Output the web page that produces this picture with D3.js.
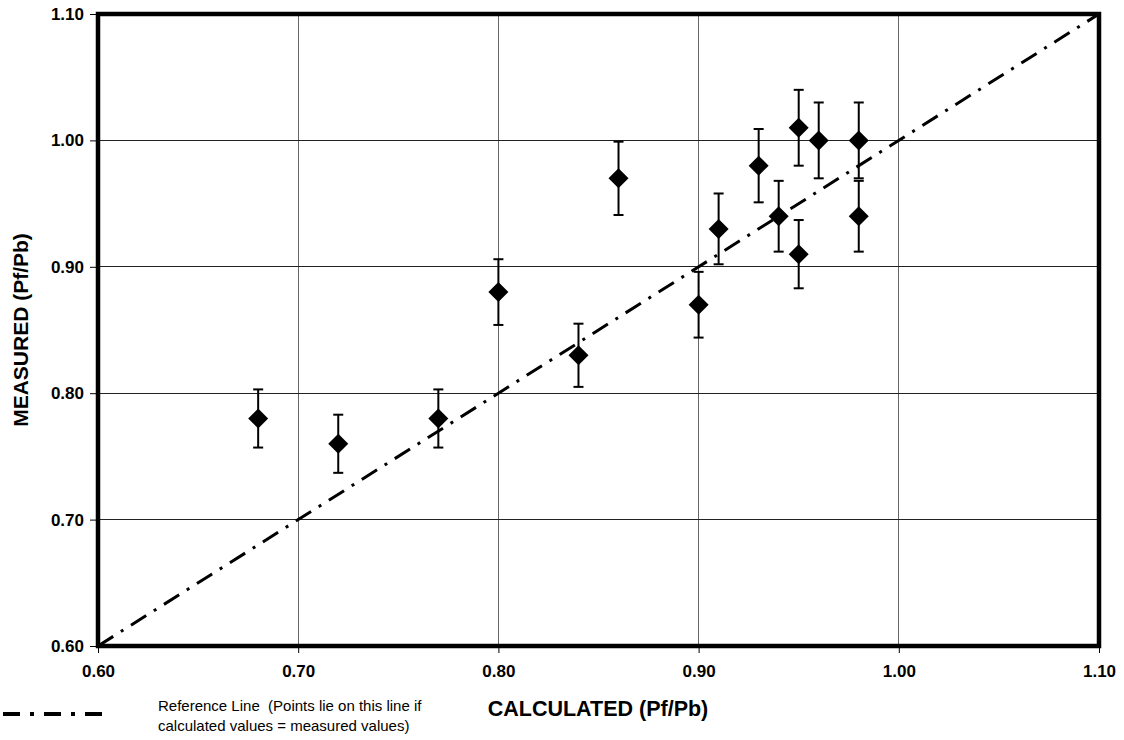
<!DOCTYPE html>
<html><head><meta charset="utf-8">
<script src="https://cdn.jsdelivr.net/npm/d3@7"></script>
<style>body{margin:0;background:#fff}svg{display:block}text{font-family:"Liberation Sans",Arial,sans-serif}</style>
</head><body><svg id="c" width="1124" height="740"></svg>
<script>
const calculated = [0.68,0.72,0.77,0.80,0.84,0.86,0.90,0.91,0.93,0.94,0.95,0.95,0.96,0.98,0.98];
const measured   = [0.78,0.76,0.78,0.88,0.83,0.97,0.87,0.93,0.98,0.94,1.01,0.91,1.00,1.00,0.94];
const errors     = [0.023,0.023,0.023,0.026,0.025,0.029,0.026,0.028,0.029,0.028,0.030,0.027,0.030,0.030,0.028];
const xTicks = [0.60,0.70,0.80,0.90,1.00,1.10];
const yTicks = [0.60,0.70,0.80,0.90,1.00,1.10];
const refLine = [[0.60,0.60],[1.10,1.10]];

const svg = d3.select("#c");
const L=98, R=1099, T=14, B=646;
const x = d3.scaleLinear().domain([0.6,1.1]).range([L,R]);
const y = d3.scaleLinear().domain([0.6,1.1]).range([B,T]);

// grid
svg.append("g").selectAll("line").data(xTicks.slice(1,-1)).join("line")
  .attr("x1",d=>x(d)).attr("x2",d=>x(d)).attr("y1",T).attr("y2",B)
  .attr("stroke","#666").attr("stroke-width",1).attr("shape-rendering","crispEdges");
svg.append("g").selectAll("line").data(yTicks.slice(1,-1)).join("line")
  .attr("x1",L).attr("x2",R).attr("y1",d=>y(d)).attr("y2",d=>y(d))
  .attr("stroke","#222").attr("stroke-width",1).attr("shape-rendering","crispEdges");

// axes
const xa = svg.append("g").attr("transform",`translate(0,${B})`)
  .call(d3.axisBottom(x).tickValues(xTicks).tickFormat(d3.format(".2f")).tickSize(7).tickPadding(12));
const ya = svg.append("g").attr("transform",`translate(${L},0)`)
  .call(d3.axisLeft(y).tickValues(yTicks).tickFormat(d3.format(".2f")).tickSize(8).tickPadding(6));
[xa,ya].forEach(a=>{a.select(".domain").remove();
  a.selectAll("text").style("font-size","17px").style("font-weight","bold").attr("fill","#000");
  a.selectAll("line").attr("stroke","#000");});

// reference line
svg.append("path").datum(refLine)
  .attr("d",d3.line().x(d=>x(d[0])).y(d=>y(d[1])))
  .attr("stroke","#000").attr("stroke-width",3).attr("fill","none")
  .attr("stroke-dasharray","18,9,3,9");

// error bars
const data = calculated.map((c,i)=>({c,m:measured[i],e:errors[i]}));
const eb = svg.append("g").selectAll("g").data(data).join("g");
eb.append("line").attr("x1",d=>x(d.c)).attr("x2",d=>x(d.c))
  .attr("y1",d=>y(d.m+d.e)).attr("y2",d=>y(d.m-d.e)).attr("stroke","#000").attr("stroke-width",2);
eb.append("line").attr("x1",d=>x(d.c)-5).attr("x2",d=>x(d.c)+5)
  .attr("y1",d=>y(d.m+d.e)).attr("y2",d=>y(d.m+d.e)).attr("stroke","#000").attr("stroke-width",2);
eb.append("line").attr("x1",d=>x(d.c)-5).attr("x2",d=>x(d.c)+5)
  .attr("y1",d=>y(d.m-d.e)).attr("y2",d=>y(d.m-d.e)).attr("stroke","#000").attr("stroke-width",2);

// markers
svg.append("g").selectAll("path").data(data).join("path")
  .attr("transform",d=>`translate(${x(d.c)},${y(d.m)})`)
  .attr("d","M0,-10L10,0L0,10L-10,0Z").attr("fill","#000");

// frame
svg.append("rect").attr("x",L).attr("y",T).attr("width",R-L).attr("height",B-T)
  .attr("fill","none").attr("stroke","#000").attr("stroke-width",4.5);

// titles
svg.append("text").attr("x",598).attr("y",716).attr("text-anchor","middle")
  .style("font-size","21.5px").style("font-weight","bold").text("CALCULATED (Pf/Pb)");
svg.append("text").attr("transform","translate(28,330) rotate(-90)").attr("text-anchor","middle")
  .style("font-size","21px").style("font-weight","bold").text("MEASURED (Pf/Pb)");

// legend
svg.append("line").attr("x1",3).attr("x2",106).attr("y1",714).attr("y2",714)
  .attr("stroke","#000").attr("stroke-width",4).attr("stroke-dasharray","17,10,4,10");
const lt = svg.append("text").attr("x",158).style("font-size","15px").attr("xml:space","preserve");
lt.append("tspan").attr("x",158).attr("y",711).text("Reference Line\u00a0\u00a0(Points lie on this line if");
lt.append("tspan").attr("x",158).attr("y",731).text("calculated values = measured values)");
</script></body></html>
